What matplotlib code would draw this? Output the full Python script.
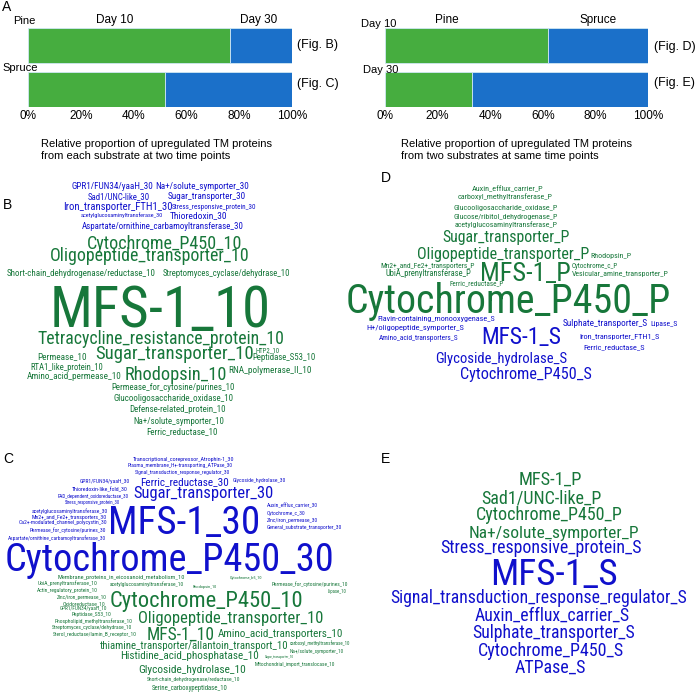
import matplotlib
matplotlib.use('Agg')
import matplotlib.pyplot as plt
from matplotlib import font_manager

# ---- data ----
pct_ticks = [0, 20, 40, 60, 80, 100]
# panel A left: share of day-10 proteins per substrate (rest is day 30)
substrates = ['Pine', 'Spruce']
day10_share = [76.4, 52.0]
# panel A right: share of pine proteins per time point (rest is spruce)
timepoints = ['Day 10', 'Day 30']
pine_share = [62.1, 33.2]

words_b = ['GPR1/FUN34/yaaH_30', 'Na+/solute_symporter_30', 'Sad1/UNC-like_30',
           'Sugar_transporter_30', 'Iron_transporter_FTH1_30', 'Stress_responsive_protein_30',
           'acetylglucosaminyltransferase_30', 'Thioredoxin_30',
           'Aspartate/ornithine_carbamoyltransferase_30', 'Cytochrome_P450_10',
           'Oligopeptide_transporter_10', 'Short-chain_dehydrogenase/reductase_10',
           'Streptomyces_cyclase/dehydrase_10', 'MFS-1_10', 'Tetracycline_resistance_protein_10',
           'Permease_10', 'Sugar_transporter_10', 'HTP2_10', 'Peptidase_S53_10',
           'RTA1_like_protein_10', 'Amino_acid_permease_10', 'Rhodopsin_10',
           'RNA_polymerase_II_10', 'Permease_for_cytosine/purines_10',
           'Glucooligosaccharide_oxidase_10', 'Defense-related_protein_10',
           'Na+/solute_symporter_10', 'Ferric_reductase_10']

words_c = ['Transcriptional_corepressor_Atrophin-1_30', 'Plasma_membrane_H+-transporting_ATPase_30',
           'Signal_transduction_response_regulator_30', 'GPR1/FUN34/yaaH_30', 'Ferric_reductase_30',
           'Glycoside_hydrolase_30', 'Thioredoxin-like_fold_30', 'Sugar_transporter_30',
           'FAD_dependent_oxidoreductase_30', 'Stress_responsive_protein_30',
           'acetylglucosaminyltransferase_30', 'Mn2+_and_Fe2+_transporters_30',
           'Ca2+-modulated_channel_polycystin_30', 'Permease_for_cytosine/purines_30',
           'Aspartate/ornithine_carbamoyltransferase_30', 'MFS-1_30', 'Auxin_efflux_carrier_30',
           'Cytochrome_c_30', 'Zinc/iron_permease_30', 'General_substrate_transporter_30',
           'Cytochrome_P450_30', 'Membrane_proteins_in_eicosanoid_metabolism_10', 'Cytochrome_b5_10',
           'UbiA_prenyltransferase_10', 'acetylglucosaminyltransferase_10', 'Rhodopsin_10',
           'Permease_for_cytosine/purines_10', 'Actin_regulatory_protein_10', 'Lipase_10',
           'Cytochrome_P450_10', 'Zinc/iron_permease_10', 'Oxidoreductase_10', 'GPR1/FUN34/yaaH_10',
           'Peptidase_S53_10', 'Phospholipid_methyltransferase_10', 'Oligopeptide_transporter_10',
           'Streptomyces_cyclase/dehydrase_10', 'Sterol_reductase/lamin_B_receptor_10', 'MFS-1_10',
           'Amino_acid_transporters_10', 'thiamine_transporter/allantoin_transport_10',
           'carboxyl_methyltransferase_10', 'Na+/solute_symporter_10',
           'Histidine_acid_phosphatase_10', 'Sugar_transporter_10',
           'Mitochondrial_import_translocase_10', 'Glycoside_hydrolase_10',
           'Short-chain_dehydrogenase/reductase_10', 'Serine_carboxypeptidase_10']

words_d = ['Auxin_efflux_carrier_P', 'carboxyl_methyltransferase_P', 'Glucooligosaccharide_oxidase_P',
           'Glucose/ribitol_dehydrogenase_P', 'acetylglucosaminyltransferase_P', 'Sugar_transporter_P',
           'Oligopeptide_transporter_P', 'Rhodopsin_P', 'Mn2+_and_Fe2+_transporters_P',
           'UbiA_prenyltransferase_P', 'Cytochrome_c_P', 'Vesicular_amine_transporter_P', 'MFS-1_P',
           'Ferric_reductase_P', 'Cytochrome_P450_P', 'Flavin-containing_monooxygenase_S',
           'H+/oligopeptide_symporter_S', 'Sulphate_transporter_S', 'Lipase_S',
           'Amino_acid_transporters_S', 'MFS-1_S', 'Iron_transporter_FTH1_S', 'Ferric_reductase_S',
           'Glycoside_hydrolase_S', 'Cytochrome_P450_S']

words_e = ['MFS-1_P', 'Sad1/UNC-like_P', 'Cytochrome_P450_P', 'Na+/solute_symporter_P',
           'Stress_responsive_protein_S', 'MFS-1_S', 'Signal_transduction_response_regulator_S',
           'Auxin_efflux_carrier_S', 'Sulphate_transporter_S', 'Cytochrome_P450_S', 'ATPase_S']

# ---- word cloud layout (left px, right px, centre y px) ----
layout_b = [(72, 153, 186), (155, 247, 186), (88, 150, 196), (168, 245, 196), (63, 171, 206),
            (172, 255, 206), (81, 163, 215), (170, 227, 215), (82, 242, 226), (87, 242, 242),
            (50, 248, 255), (7, 156, 273), (163, 290, 273), (50, 270, 307), (37, 282, 338),
            (37, 86, 356), (95, 253, 352), (255, 279, 350), (252, 315, 357), (30, 103, 367),
            (27, 120, 376), (125, 227, 373), (228, 310, 370), (111, 234, 387), (113, 233, 398),
            (129, 226, 409), (133, 223, 421), (146, 217, 431)]

layout_c = [(133, 235, 459), (128, 233, 465), (135, 230, 472), (80, 130, 481), (140, 228, 481),
            (233, 286, 480), (72, 128, 489), (133, 272, 492), (58, 128, 496), (65, 121, 502),
            (32, 107, 511), (32, 107, 517), (19, 107, 522), (30, 106, 530), (8, 106, 538),
            (108, 260, 520), (267, 318, 505), (267, 305, 513), (267, 318, 520), (267, 342, 527),
            (5, 333, 557), (57, 185, 577), (230, 263, 577), (38, 97, 583), (110, 183, 584),
            (193, 217, 586), (272, 347, 584), (37, 97, 590), (328, 347, 591), (110, 302, 599),
            (57, 107, 597), (63, 105, 603), (60, 107, 608), (72, 112, 614), (55, 132, 621),
            (138, 322, 617), (52, 132, 627), (53, 137, 634), (147, 215, 633), (218, 342, 633),
            (100, 287, 645), (290, 350, 643), (290, 343, 651), (120, 258, 655), (265, 293, 657),
            (255, 335, 664), (138, 245, 669), (147, 240, 679), (152, 227, 688)]

layout_d = [(472, 543, 188), (458, 552, 196), (454, 557, 207), (454, 558, 216), (455, 557, 224),
            (442, 569, 236), (417, 588, 253), (590, 631, 255), (380, 474, 265), (386, 472, 273),
            (572, 618, 265), (572, 668, 273), (480, 571, 272), (450, 503, 283), (346, 670, 299),
            (377, 494, 318), (366, 463, 327), (563, 648, 323), (650, 677, 323), (379, 458, 337),
            (481, 561, 336), (579, 659, 336), (583, 644, 346), (435, 566, 358), (460, 591, 373)]

layout_e = [(519, 583, 478), (481, 601, 497), (476, 622, 514), (469, 638, 532), (440, 640, 547),
            (490, 618, 572), (390, 683, 597), (475, 629, 614), (472, 634, 632), (478, 624, 649),
            (515, 586, 666)]

W, H = 696, 692
BAR_GREEN = '#46ad3f'
BAR_BLUE = '#1b70c9'
TXT_GREEN = '#17773a'
TXT_BLUE = '#1010cc'
LBL_FONT = ['Liberation Sans', 'DejaVu Sans']

# narrow face for the word clouds if one is around, else Liberation Sans
installed = {f.name for f in font_manager.fontManager.ttflist}
narrow = [n for n in ['Liberation Sans Narrow', 'Arial Narrow', 'Roboto Condensed',
                      'Open Sans Condensed', 'Noto Sans Condensed', 'DejaVu Sans Condensed']
          if n in installed]
WC_FONT = narrow[:1] + ['Liberation Sans', 'DejaVu Sans']

fig = plt.figure(figsize=(W / 100, H / 100), dpi=100)


def fx(x):
    return x / W


def fy(y):
    return 1 - y / H


def label(x, y, s, size=8.5, ha='left'):
    fig.text(fx(x), fy(y), s, fontsize=size, family=LBL_FONT, ha=ha, va='center')


def bar_panel(x0, x1, y0, y1, share):
    ax = fig.add_axes([fx(x0), fy(y1), (x1 - x0) / W, (y1 - y0) / H])
    pos = [1, 0]
    rest = [100 - v for v in share]
    ax.barh(pos, share, height=0.8, color=BAR_GREEN, edgecolor='#cfe8f3', linewidth=0.6)
    ax.barh(pos, rest, left=share, height=0.8, color=BAR_BLUE, edgecolor='#cfe8f3', linewidth=0.6)
    ax.set_xlim(0, 100)
    ax.set_ylim(-0.4, 1.4)
    ax.set_yticks([])
    ax.set_xticks(pct_ticks)
    ax.set_xticklabels([f'{t}%' for t in pct_ticks], family=LBL_FONT)
    ax.tick_params(axis='x', length=0, pad=2.5, labelsize=8.5)
    for sp in ax.spines.values():
        sp.set_visible(False)
    return ax


# ---- panel A ----
label(2, 7, 'A', size=10)
bar_panel(28, 292, 28, 107, day10_share)
label(13, 21, substrates[0], size=8)
label(2, 68, substrates[1], size=8)
label(115, 20, 'Day 10', ha='center')
label(259, 20, 'Day 30', ha='center')
label(297, 45, '(Fig. B)', size=9)
label(297, 84, '(Fig. C)', size=9)
fig.text(fx(41), fy(150), 'Relative proportion of upregulated TM proteins\n'
         'from each substrate at two time points', fontsize=8, family=LBL_FONT,
         va='center', linespacing=1.3)

bar_panel(385, 648, 28, 107, pine_share)
label(361, 24, timepoints[0], size=8)
label(363, 70, timepoints[1], size=8)
label(447, 20, 'Pine', ha='center')
label(598, 20, 'Spruce', ha='center')
label(654, 47, '(Fig. D)', size=9)
label(654, 83, '(Fig. E)', size=9)
fig.text(fx(401), fy(150), 'Relative proportion of upregulated TM proteins\n'
         'from two substrates at same time points', fontsize=8, family=LBL_FONT,
         va='center', linespacing=1.3)

# ---- word clouds ----
renderer = fig.canvas.get_renderer()


def cloud(words, layout):
    for s, (x0, x1, yc) in zip(words, layout):
        col = TXT_GREEN if s.endswith(('_10', '_P')) else TXT_BLUE
        t = fig.text(fx(x0), fy(yc), s, fontsize=10, family=WC_FONT, color=col,
                     ha='left', va='baseline')
        w = t.get_window_extent(renderer).width
        fs = 10 * (x1 - x0) / w
        t.set_fontsize(fs)
        t.set_y(fy(yc + 0.36 * fs * 100 / 72))


label(3, 205, 'B', size=10)
cloud(words_b, layout_b)
label(3, 459, 'C', size=10)
cloud(words_c, layout_c)
label(381, 178, 'D', size=10)
cloud(words_d, layout_d)
label(381, 459, 'E', size=10)
cloud(words_e, layout_e)

fig.savefig('out.png', dpi=100)
